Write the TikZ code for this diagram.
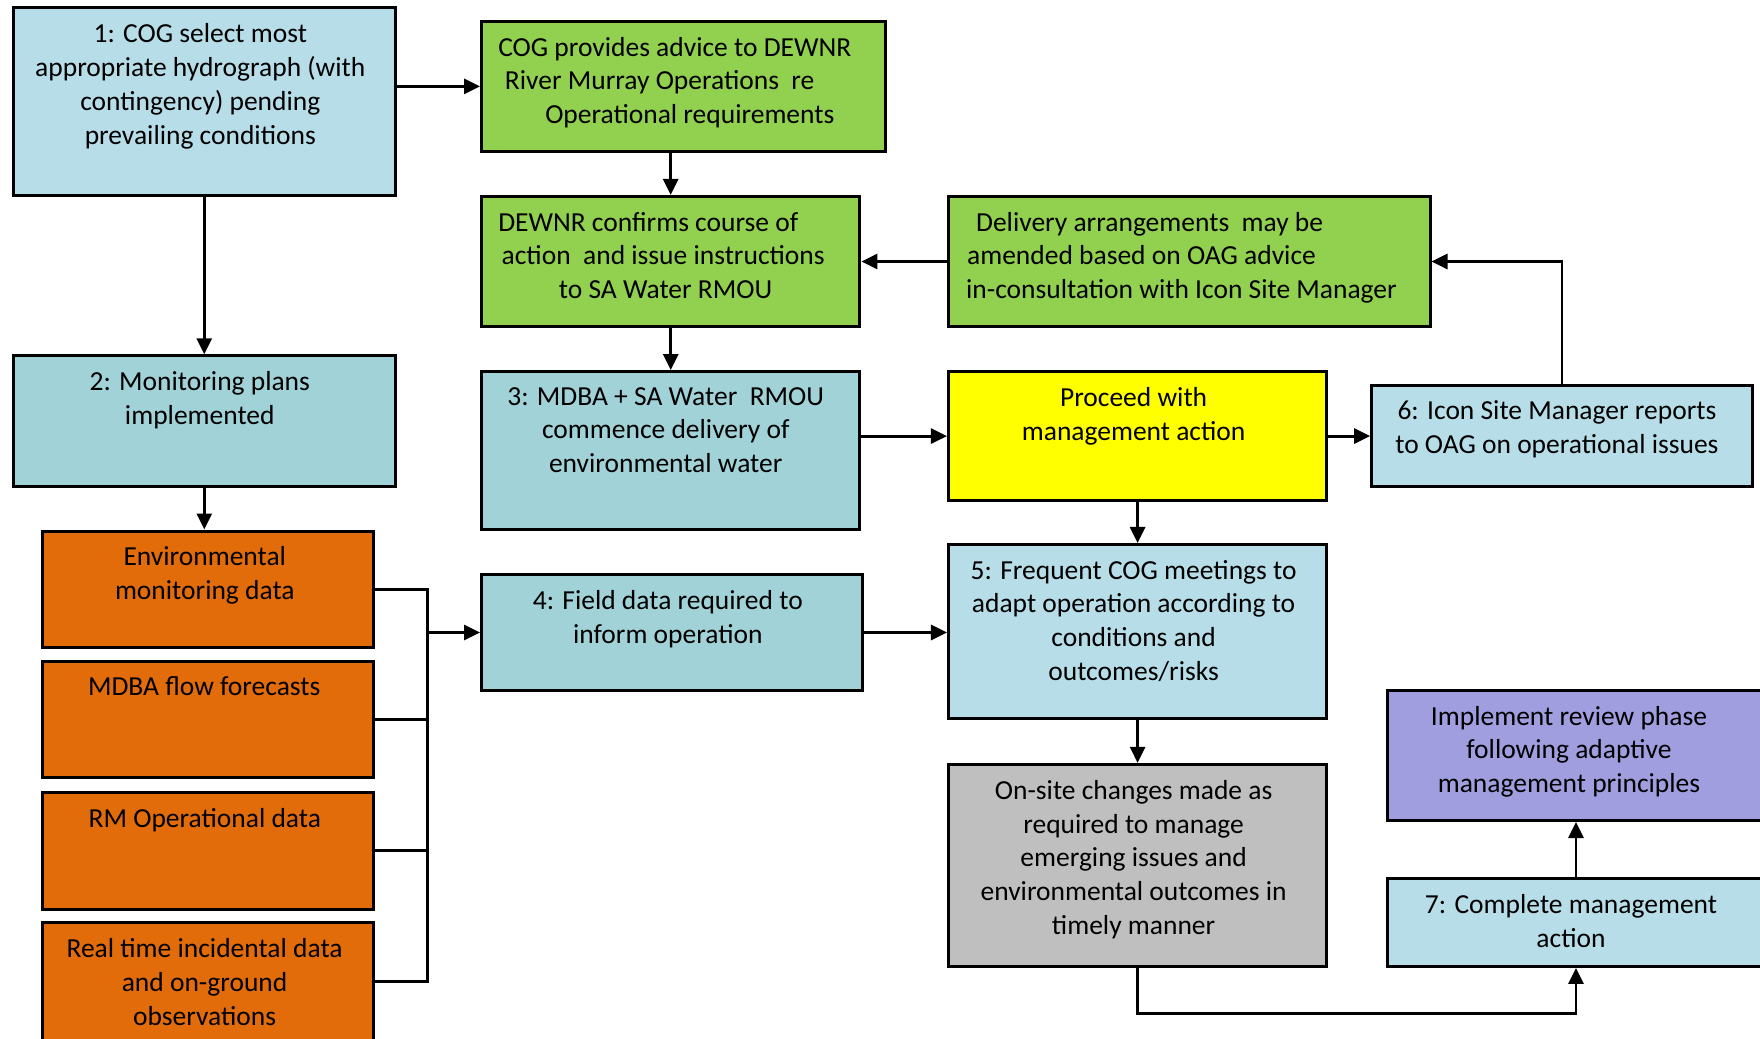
\documentclass[tikz,border=0pt]{standalone}
\usepackage{fontspec}
\setmainfont{Carlito}
\usetikzlibrary{arrows.meta}
\definecolor{lblue}{HTML}{B7DEE8}
\definecolor{teal2}{HTML}{A0D2D7}
\definecolor{lgreen}{HTML}{92D050}
\definecolor{orng}{HTML}{E36C0A}
\definecolor{yel}{HTML}{FFFF00}
\definecolor{gry}{HTML}{BFBFBF}
\definecolor{purp}{HTML}{A09EDE}
\begin{document}
\begin{tikzpicture}[x=1pt,y=-1pt,
  box/.style={draw=black, line width=3pt, rectangle, inner sep=0pt},
  txt/.style={anchor=north, align=center, inner sep=0pt, font=\fontsize{27.5}{33.8}\selectfont},
  ltxt/.style={anchor=north west, align=left, inner sep=0pt, font=\fontsize{27.5}{33.8}\selectfont},
  conn/.style={line width=2.8pt, -{Triangle[length=16pt,width=15pt]}},
  plain/.style={line width=2.8pt}]
\useasboundingbox (0,0) rectangle (1760,1038);
\clip (0,0) rectangle (1760,1038);

% boxes
\node[box, fill=lblue, minimum width=381.6pt, minimum height=187.4pt] (b1) at (204.3,101.6) {};
\node[box, fill=lgreen, minimum width=404.1pt, minimum height=130.2pt] (cog) at (683.6,86.4) {};
\node[box, fill=lgreen, minimum width=378.3pt, minimum height=130.2pt] (dew) at (670.7,261.5) {};
\node[box, fill=lgreen, minimum width=481.6pt, minimum height=130.2pt] (del) at (1189.2,261.5) {};
\node[box, fill=teal2, minimum width=381.6pt, minimum height=130.2pt] (b2) at (204.3,420.9) {};
\node[box, fill=teal2, minimum width=378.3pt, minimum height=158.3pt] (b3) at (670.7,450.7) {};
\node[box, fill=yel, minimum width=378.3pt, minimum height=129.1pt] (pro) at (1137.6,436.1) {};
\node[box, fill=lblue, minimum width=380.5pt, minimum height=101pt] (b6) at (1561.9,435.5) {};
\node[box, fill=orng, minimum width=331.1pt, minimum height=116.6pt] (env) at (208.2,589.3) {};
\node[box, fill=orng, minimum width=331.1pt, minimum height=116.6pt] (mfl) at (208.2,719.5) {};
\node[box, fill=orng, minimum width=331.1pt, minimum height=116.6pt] (rmo) at (208.2,850.8) {};
\node[box, fill=orng, minimum width=331.1pt, minimum height=118pt] (rti) at (208.2,981.6) {};
\node[box, fill=teal2, minimum width=380.5pt, minimum height=115.6pt] (b4) at (671.8,632.5) {};
\node[box, fill=lblue, minimum width=378.3pt, minimum height=173.9pt] (b5) at (1137.6,631.4) {};
\node[box, fill=gry, minimum width=378.3pt, minimum height=202pt] (ons) at (1137.6,865.4) {};
\node[box, fill=purp, minimum width=377.4pt, minimum height=130.2pt] (imp) at (1576,755.4) {};
\node[box, fill=lblue, minimum width=377.4pt, minimum height=87.5pt] (b7) at (1576,922.65) {};

% texts
\node[txt] (b1t) at ([xshift=-4pt,yshift=-17pt]b1.north) {1: COG select most\\appropriate hydrograph (with\\contingency) pending\\prevailing conditions};
\node[ltxt] (cogt) at ([xshift=18pt,yshift=-17pt]cog.north west) {COG provides advice to DEWNR\\\hspace*{6.7pt}River Murray Operations\ \ re\\\hspace*{47pt}Operational requirements};
\node[ltxt] (dewt) at ([xshift=18pt,yshift=-17pt]dew.north west) {DEWNR confirms course of\\\hspace*{3.4pt}action\ \ and issue instructions\\\hspace*{60.6pt}to SA Water RMOU};
\node[ltxt] (delt) at ([xshift=19pt,yshift=-17pt]del.north west) {\hspace*{10pt}Delivery arrangements\ \ may be\\\hspace*{1pt}amended based on OAG advice\\in-consultation with Icon Site Manager};
\node[txt] (b2t) at ([xshift=-4.5pt,yshift=-17pt]b2.north) {2: Monitoring plans\\implemented};
\node[txt] (b3t) at ([xshift=-5pt,yshift=-17pt]b3.north) {3: MDBA + SA Water\ \ RMOU\\commence delivery of\\environmental water};
\node[txt] (prot) at ([xshift=-4pt,yshift=-17pt]pro.north) {Proceed with\\management action};
\node[txt] (b6t) at ([xshift=-5pt,yshift=-17pt]b6.north) {6: Icon Site Manager reports\\to OAG on operational issues};
\node[txt] (envt) at ([xshift=-3.4pt,yshift=-17pt]env.north) {Environmental\\monitoring data};
\node[txt] (mflt) at ([xshift=-4pt,yshift=-17pt]mfl.north) {MDBA flow forecasts};
\node[txt] (rmot) at ([xshift=-3.4pt,yshift=-17pt]rmo.north) {RM Operational data};
\node[txt] (rtit) at ([xshift=-3.6pt,yshift=-17pt]rti.north) {Real time incidental data\\and on-ground\\observations};
\node[txt] (b4t) at ([xshift=-4pt,yshift=-17pt]b4.north) {4: Field data required to\\inform operation};
\node[txt] (b5t) at ([xshift=-4pt,yshift=-17pt]b5.north) {5: Frequent COG meetings to\\adapt operation according to\\conditions and\\outcomes/risks};
\node[txt] (onst) at ([xshift=-4pt,yshift=-17pt]ons.north) {On-site changes made as\\required to manage\\emerging issues and\\environmental outcomes in\\timely manner};
\node[txt] (impt) at ([xshift=-7pt,yshift=-17pt]imp.north) {Implement review phase\\following adaptive\\management principles};
\node[txt] (b7t) at ([xshift=-5pt,yshift=-17pt]b7.north) {7: Complete management\\action};

% connectors
\coordinate (brk) at (427.6,632.5);
\coordinate (lp) at (1576,1013.5);
\draw[conn] (b1.east |- cog.west) -- (cog.west);
\draw[conn] (b1.south) -- (b2.north);
\draw[conn] (cog.south -| dew.north) -- (dew.north);
\draw[conn] (dew.south) -- (b3.north);
\draw[conn] (del.west) -- (dew.east);
\draw[conn] (b6.north) |- (del.east);
\draw[conn] (b3.east |- pro.west) -- (pro.west);
\draw[conn] (pro.east) -- (pro.east -| b6.west);
\draw[conn] (pro.south) -- (b5.north);
\draw[conn] (b2.south) -- (b2.south |- env.north);
\draw[plain] (env.east) -- (env.east -| brk) -- (rti.east -| brk) -- (rti.east);
\draw[plain] (mfl.east) -- (mfl.east -| brk);
\draw[plain] (rmo.east) -- (rmo.east -| brk);
\draw[conn] (brk) -- (b4.west);
\draw[conn] (b4.east) -- (b4.east -| b5.west);
\draw[conn] (b5.south) -- (ons.north);
\draw[conn] (ons.south) |- (lp) -- (b7.south);
\draw[conn] (b7.north) -- (imp.south);
\end{tikzpicture}
\end{document}
